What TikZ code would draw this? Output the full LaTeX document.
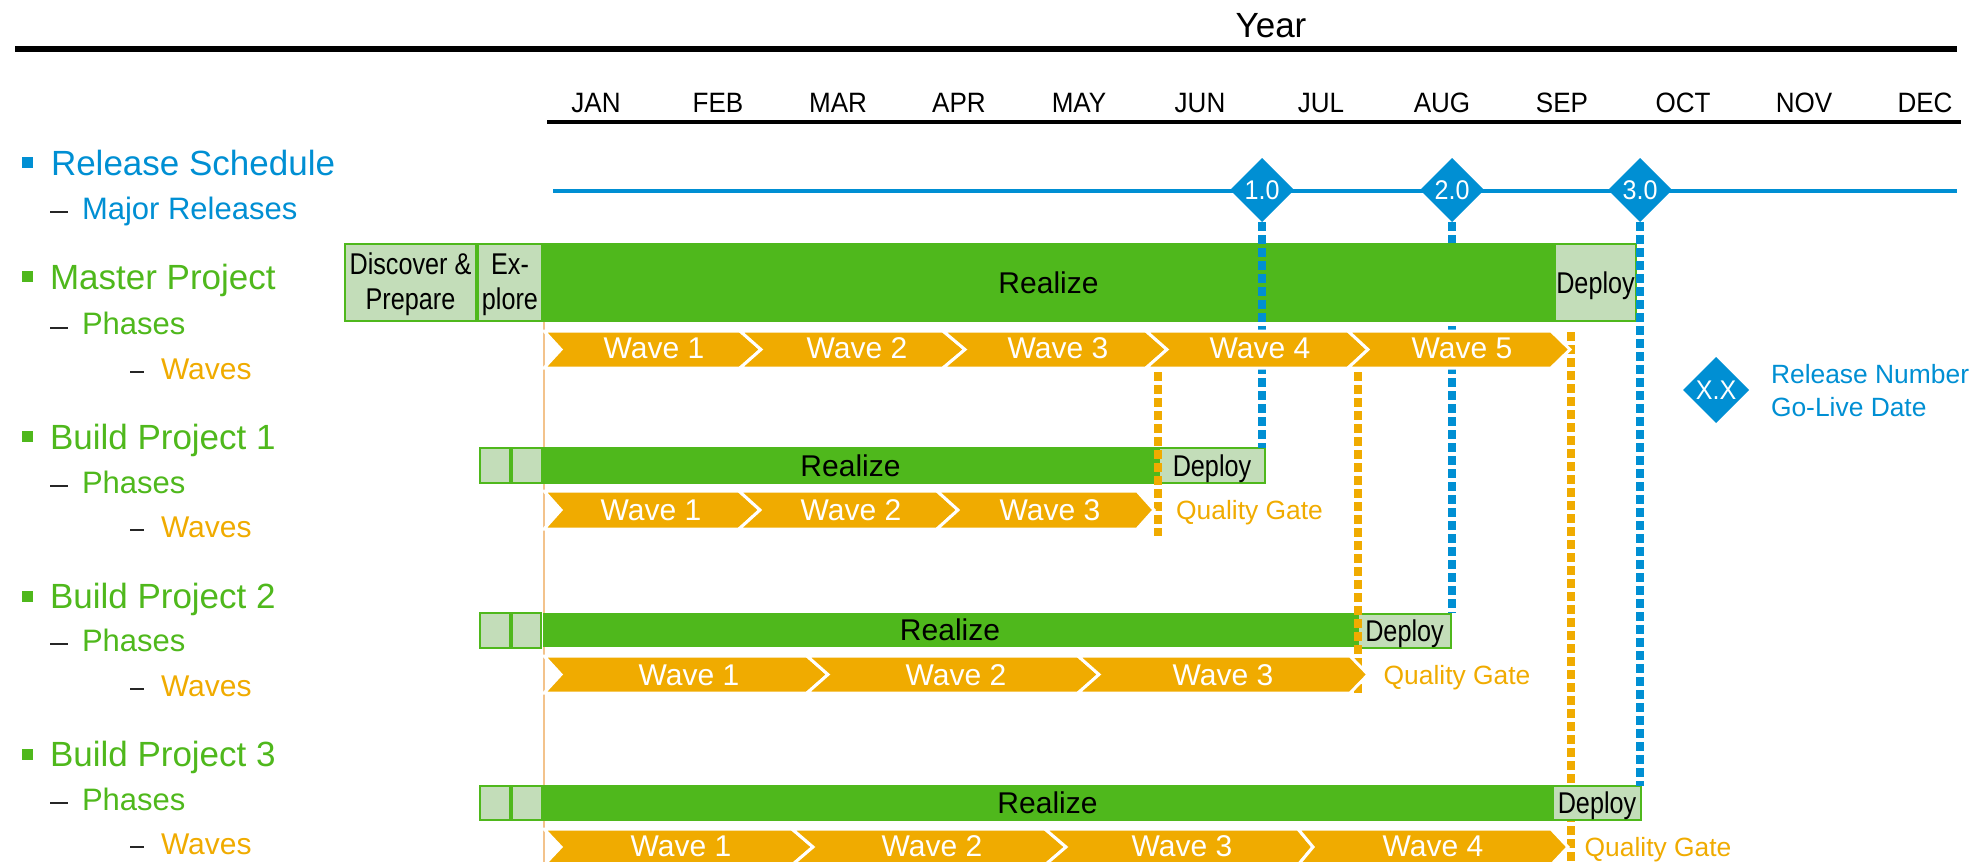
\documentclass[tikz,border=0pt]{standalone}
\usepackage{fontspec}
\usetikzlibrary{shapes.geometric}
\setmainfont{Liberation Sans}
\newfontfamily\condf[FakeStretch=0.84]{Liberation Sans}
\newfontfamily\monthf[FakeStretch=0.93]{Liberation Sans}
\definecolor{sapblue}{HTML}{008FD3}
\definecolor{sapgreen}{HTML}{4FB81C}
\definecolor{sapgold}{HTML}{F0AB00}
\definecolor{paleGreen}{HTML}{C3DDB9}
\definecolor{thinGold}{HTML}{F3C38C}
\newcommand\fsz[1]{\fontsize{#1}{#1}\selectfont}
\tikzset{
  every node/.style={inner sep=0pt,outer sep=0pt},
  lvlone/.style={anchor=base west,font=\fsz{35}},
  lvltwo/.style={anchor=base west,font=\fsz{31}},
  lvlthree/.style={anchor=base west,font=\fsz{30}},
  monthlabel/.style={anchor=base,font=\monthf\fsz{28}},
  dashmark/.style={draw=black!85,line width=1.5pt},
  realizebar/.style={rectangle,fill=sapgreen,draw=sapgreen,line width=1pt,font=\fsz{30},text height=21pt,text depth=0pt},
  phasebox/.style={rectangle,fill=paleGreen,draw=sapgreen,line width=2pt,font=\condf\fsz{30},align=center},
  deploybox/.style={phasebox,text height=21pt,text depth=0pt},
  relmark/.style={diamond,aspect=1,fill=sapblue,minimum width=64pt,minimum height=64pt,text=white,font=\monthf\fsz{27},text height=19pt,text depth=0pt},
  bluegate/.style={draw=sapblue,line width=8pt,dash pattern=on 9pt off 4pt},
  goldgate/.style={draw=sapgold,line width=8pt,dash pattern=on 9pt off 4pt},
  wavelabel/.style={anchor=base,text=white,font=\fsz{30}},
  gatelabel/.style={anchor=base,text=sapgold,font=\fsz{26.4}},
  waveshape/.style={fill=sapgold,draw=white,line width=3pt,line join=miter},
}
% name, number, x0, notch tip, shoulder, tip, label x
\newcommand\wavebar[7]{%
  \path[waveshape] (#3,\wt) -- (#5,\wt) -- (#6,\wm) -- (#5,\wb) -- (#3,\wb) -- (#4,\wm) -- cycle;
  \node[wavelabel] (#1) at (#7,\wbase) {Wave #2};
}
\begin{document}
\begin{tikzpicture}[x=1pt,y=-1pt]
\useasboundingbox (0,0) rectangle (1976,862);
% header
\node[anchor=base,font=\fsz{35}] (year) at (1271,37) {Year};
\coordinate (topL) at (15,49);
\coordinate (topR) at (1957,49);
\draw[line width=6pt] (topL) -- (topR);
\coordinate (monL) at (547,122);
\coordinate (monR) at (1961,122);
\draw[line width=4pt] (monL) -- (monR);
\foreach \nm/\xx in {JAN/596,FEB/718,MAR/838,APR/959,MAY/1079,JUN/1200,JUL/1321,AUG/1442,SEP/1562,OCT/1683,NOV/1804,DEC/1925}
  \node[monthlabel] (m\nm) at (\xx,112) {\nm};
% left list
\fill[sapblue] (22,157) rectangle (33,168);
\node[lvlone,text=sapblue] (ls1) at (51,175) {Release Schedule};
\draw[dashmark] (50,212) -- (68,212);
\node[lvltwo,text=sapblue] (ls2) at (82,219) {Major Releases};
\fill[sapgreen] (22,271) rectangle (33,282);
\node[lvlone,text=sapgreen] (ls3) at (50,289) {Master Project};
\draw[dashmark] (50,328) -- (68,328);
\node[lvltwo,text=sapgreen] (ls4) at (82,334) {Phases};
\draw[dashmark] (130,372) -- (144,372);
\node[lvlthree,text=sapgold] (ls5) at (161,379) {Waves};
\fill[sapgreen] (22,431) rectangle (33,442);
\node[lvlone,text=sapgreen] (ls6) at (50,449) {Build Project 1};
\draw[dashmark] (50,486) -- (68,486);
\node[lvltwo,text=sapgreen] (ls7) at (82,493) {Phases};
\draw[dashmark] (130,530) -- (144,530);
\node[lvlthree,text=sapgold] (ls8) at (161,537) {Waves};
\fill[sapgreen] (22,591) rectangle (33,602);
\node[lvlone,text=sapgreen] (ls9) at (50,608) {Build Project 2};
\draw[dashmark] (50,644) -- (68,644);
\node[lvltwo,text=sapgreen] (ls10) at (82,651) {Phases};
\draw[dashmark] (130,689) -- (144,689);
\node[lvlthree,text=sapgold] (ls11) at (161,696) {Waves};
\fill[sapgreen] (22,749) rectangle (33,760);
\node[lvlone,text=sapgreen] (ls12) at (50,766) {Build Project 3};
\draw[dashmark] (50,803) -- (68,803);
\node[lvltwo,text=sapgreen] (ls13) at (82,810) {Phases};
\draw[dashmark] (130,847) -- (144,847);
\node[lvlthree,text=sapgold] (ls14) at (161,854) {Waves};
% thin start line
\coordinate (startT) at (544,322);
\coordinate (startB) at (544,862);
\draw[thinGold,line width=2pt] (startT) -- (startB);
% release line and diamonds
\coordinate (relL) at (553,191);
\coordinate (relR) at (1957,191);
\draw[sapblue,line width=4pt] (relL) -- (relR);
\node[relmark] (rel1) at (1262,190) {1.0};
\node[relmark] (rel2) at (1452,190) {2.0};
\node[relmark] (rel3) at (1640,190) {3.0};
% connectors under the bars
\coordinate (d2end) at (1452,613);
\draw[bluegate] (rel2.south) -- (d2end);
\coordinate (qg3t) at (1571,332);
\coordinate (qg3b) at (1571,862);
\draw[goldgate] (qg3t) -- (qg3b);
% master project
\node[phasebox,minimum width=131pt,minimum height=77pt] (disc) at (410.5,282.5) {\rule{0pt}{26pt}Discover \&\\[5pt]Prepare};
\node[phasebox,minimum width=64pt,minimum height=77pt] (expl) at (510,282.5) {\rule{0pt}{26pt}Ex-\\[5pt]plore};
\node[realizebar,minimum width=1011pt,minimum height=78pt] (mreal) at (1048.5,282.5) {Realize};
\node[deploybox,minimum width=81pt,minimum height=77pt] (mdep) at (1595.5,282.5) {Deploy};
% build 1
\node[phasebox,minimum width=30pt,minimum height=35pt] (a1) at (495,465.5) {};
\node[phasebox,minimum width=30pt,minimum height=35pt] (a2) at (527,465.5) {};
\node[realizebar,minimum width=615pt,minimum height=36pt] (b1real) at (850.5,465.5) {Realize};
\node[deploybox,minimum width=106pt,minimum height=35pt] (b1dep) at (1212,465.5) {Deploy};
% build 2
\node[phasebox,minimum width=30pt,minimum height=35pt] (b1) at (495,630.5) {};
\node[phasebox,minimum width=29pt,minimum height=35pt] (b2) at (526.5,630.5) {};
\node[realizebar,minimum width=814pt,minimum height=33pt] (b2real) at (950,630) {Realize};
\node[deploybox,minimum width=93pt,minimum height=34pt] (b2dep) at (1404.5,631) {Deploy};
% build 3
\node[phasebox,minimum width=30pt,minimum height=34pt] (c1) at (495,803) {};
\node[phasebox,minimum width=30pt,minimum height=34pt] (c2) at (527,803) {};
\node[realizebar,minimum width=1009pt,minimum height=35pt] (b3real) at (1047.5,803) {Realize};
\node[deploybox,minimum width=88pt,minimum height=34pt] (b3dep) at (1597,803) {Deploy};
% connectors above the bars
\draw[bluegate] (rel1.south) -- (rel1.south |- b1dep.north);
\draw[bluegate] (rel3.south) -- (rel3.south |- b3dep.north);
\coordinate (qg1t) at (1158,372);
\coordinate (qg1b) at (1158,536);
\draw[goldgate] (qg1t) -- (qg1b);
\coordinate (qg2t) at (1358,372);
\coordinate (qg2b) at (1358,694);
\draw[goldgate] (qg2t) -- (qg2b);
% master waves
\def\wt{331}\def\wb{368}\def\wm{349.5}\def\wbase{358}
\wavebar{mw1}{1}{544}{561}{740}{761}{654}
\wavebar{mw2}{2}{740}{761}{943}{965}{857}
\wavebar{mw3}{3}{943}{965}{1146}{1167}{1058}
\wavebar{mw4}{4}{1146}{1167}{1348}{1368}{1260}
\wavebar{mw5}{5}{1348}{1368}{1551}{1570}{1462}
% build 1 waves
\def\wt{491}\def\wb{529}\def\wm{510}\def\wbase{520}
\wavebar{aw1}{1}{544}{561}{739}{760}{651}
\wavebar{aw2}{2}{739}{760}{937}{958}{851}
\wavebar{aw3}{3}{937}{958}{1137}{1154}{1050}
% build 2 waves
\def\wt{656}\def\wb{693}\def\wm{674.5}\def\wbase{685}
\wavebar{bw1}{1}{544}{561}{807}{828}{689}
\wavebar{bw2}{2}{807}{828}{1078}{1099}{956}
\wavebar{bw3}{3}{1078}{1099}{1350}{1368}{1223}
% build 3 waves
\def\wt{829}\def\wb{865}\def\wm{847}\def\wbase{856}
\wavebar{cw1}{1}{544}{561}{792}{813}{681}
\wavebar{cw2}{2}{792}{813}{1045}{1066}{932}
\wavebar{cw3}{3}{1045}{1066}{1298}{1313}{1182}
\wavebar{cw4}{4}{1298}{1313}{1551}{1568}{1433}
% quality gates
\node[gatelabel] (q1) at (1249.5,519) {Quality Gate};
\node[gatelabel] (q2) at (1457,684) {Quality Gate};
\node[gatelabel] (q3) at (1658,856) {Quality Gate};
% legend
\node[relmark,minimum width=66pt,minimum height=66pt] (legend) at (1716,390) {X.X};
\node[anchor=base west,text=sapblue,font=\fsz{26.4}] (lg1) at (1771,383) {Release Number};
\node[anchor=base west,text=sapblue,font=\fsz{26.4}] (lg2) at (1771,416) {Go-Live Date};
\end{tikzpicture}
\end{document}
